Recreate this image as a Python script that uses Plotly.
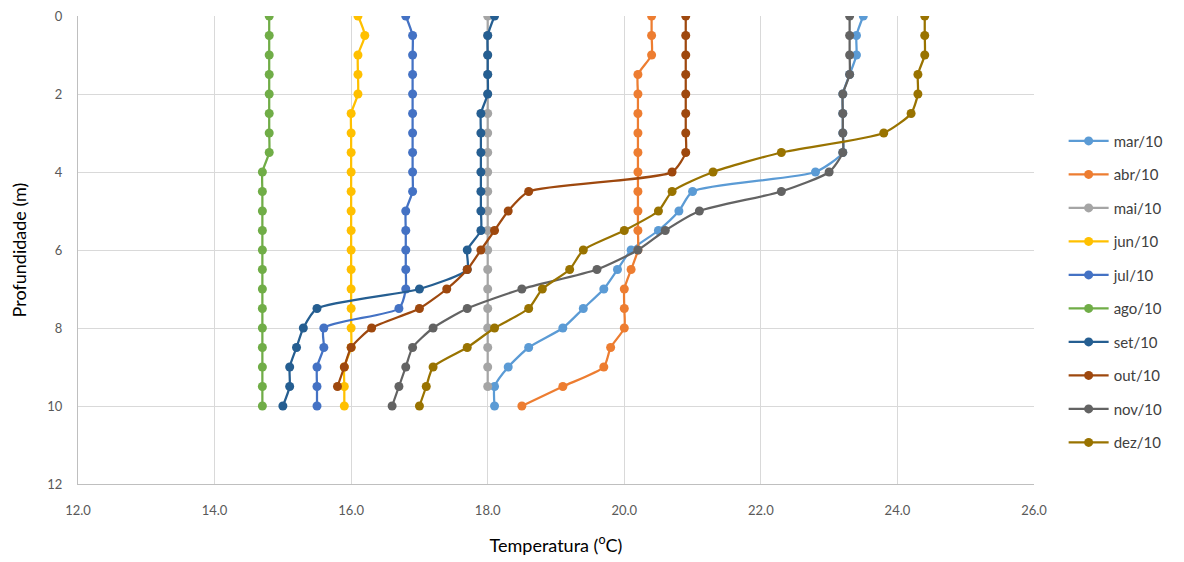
import plotly.graph_objects as go

depth = [0, 0.5, 1, 1.5, 2, 2.5, 3, 3.5, 4, 4.5, 5, 5.5, 6, 6.5, 7, 7.5, 8, 8.5, 9, 9.5, 10]

mar = [23.5, 23.4, 23.4, 23.3, 23.2, 23.2, 23.2, 23.2, 22.8, 21.0, 20.8, 20.5, 20.1, 19.9, 19.7, 19.4, 19.1, 18.6, 18.3, 18.1, 18.1]
abr = [20.4, 20.4, 20.4, 20.2, 20.2, 20.2, 20.2, 20.2, 20.2, 20.2, 20.2, 20.2, 20.2, 20.1, 20.0, 20.0, 20.0, 19.8, 19.7, 19.1, 18.5]
mai = [18.0] * 20
jun = [16.1, 16.2, 16.1, 16.1, 16.1, 16.0, 16.0, 16.0, 16.0, 16.0, 16.0, 16.0, 16.0, 16.0, 16.0, 16.0, 16.0, 16.0, 15.9, 15.9, 15.9]
jul = [16.8, 16.9, 16.9, 16.9, 16.9, 16.9, 16.9, 16.9, 16.9, 16.9, 16.8, 16.8, 16.8, 16.8, 16.8, 16.7, 15.6, 15.6, 15.5, 15.5, 15.5]
ago = [14.8, 14.8, 14.8, 14.8, 14.8, 14.8, 14.8, 14.8, 14.7, 14.7, 14.7, 14.7, 14.7, 14.7, 14.7, 14.7, 14.7, 14.7, 14.7, 14.7, 14.7]
sett = [18.1, 18.0, 18.0, 18.0, 18.0, 17.9, 17.9, 17.9, 17.9, 17.9, 17.9, 17.9, 17.7, 17.7, 17.0, 15.5, 15.3, 15.2, 15.1, 15.1, 15.0]
out = [20.9, 20.9, 20.9, 20.9, 20.9, 20.9, 20.9, 20.9, 20.7, 18.6, 18.3, 18.1, 17.9, 17.7, 17.4, 17.0, 16.3, 16.0, 15.9, 15.8]
nov = [23.3, 23.3, 23.3, 23.3, 23.2, 23.2, 23.2, 23.2, 23.0, 22.3, 21.1, 20.6, 20.2, 19.6, 18.5, 17.7, 17.2, 16.9, 16.8, 16.7, 16.6]
dez = [24.4, 24.4, 24.4, 24.3, 24.3, 24.2, 23.8, 22.3, 21.3, 20.7, 20.5, 20.0, 19.4, 19.2, 18.8, 18.6, 18.1, 17.7, 17.2, 17.1, 17.0]

names = ["mar/10", "abr/10", "mai/10", "jun/10", "jul/10", "ago/10", "set/10", "out/10", "nov/10", "dez/10"]
series = [mar, abr, mai, jun, jul, ago, sett, out, nov, dez]
colors = ["#5B9BD5", "#ED7D31", "#A5A5A5", "#FFC000", "#4472C4",
          "#70AD47", "#255E91", "#9E480E", "#636363", "#997300"]

x_ticks = [12, 14, 16, 18, 20, 22, 24, 26]
x_ticklabels = ["12.0", "14.0", "16.0", "18.0", "20.0", "22.0", "24.0", "26.0"]
y_ticks = [0, 2, 4, 6, 8, 10, 12]

fig = go.Figure()
for name, vals, col in zip(names, series, colors):
    fig.add_trace(go.Scatter(
        x=vals, y=depth[:len(vals)], name=name, legendgroup=name,
        mode="lines+markers",
        line=dict(color=col, width=2.25, shape="spline", smoothing=0.6),
        marker=dict(color=col, size=9),
    ))

font_family = "Lato, 'Open Sans', sans-serif"
fig.update_layout(
    width=1184, height=562,
    margin=dict(l=70, r=158, t=8, b=86),
    paper_bgcolor="white", plot_bgcolor="white",
    font=dict(family=font_family, color="#595959"),
    legend=dict(x=1.031, xanchor="left", y=0.411, yanchor="middle",
                font=dict(size=15, color="#404040"),
                tracegroupgap=11, itemwidth=40, bgcolor="rgba(0,0,0,0)"),
    showlegend=True,
)
fig.update_xaxes(
    range=[12, 26], tickvals=x_ticks, ticktext=x_ticklabels,
    showgrid=True, gridcolor="#D9D9D9", gridwidth=1,
    showline=True, linecolor="#BFBFBF", linewidth=1,
    zeroline=False, ticks="", ticklabelstandoff=14, ticklabeloverflow="allow",
    automargin=False,
    tickfont=dict(size=13, color="#595959"),
    title=dict(text="Temperatura (<sup>o</sup>C)", font=dict(size=18, color="#000000"), standoff=22),
)
fig.update_yaxes(
    range=[12, 0], tickvals=y_ticks,
    showgrid=True, gridcolor="#D9D9D9", gridwidth=1,
    showline=True, linecolor="#BFBFBF", linewidth=1,
    zeroline=False, ticks="", ticklabelstandoff=12, ticklabeloverflow="allow",
    automargin=False,
    tickfont=dict(size=13, color="#595959"),
    title=dict(text="Profundidade (m)", font=dict(size=18, color="#000000"), standoff=18),
)

fig.write_html("out.html")
